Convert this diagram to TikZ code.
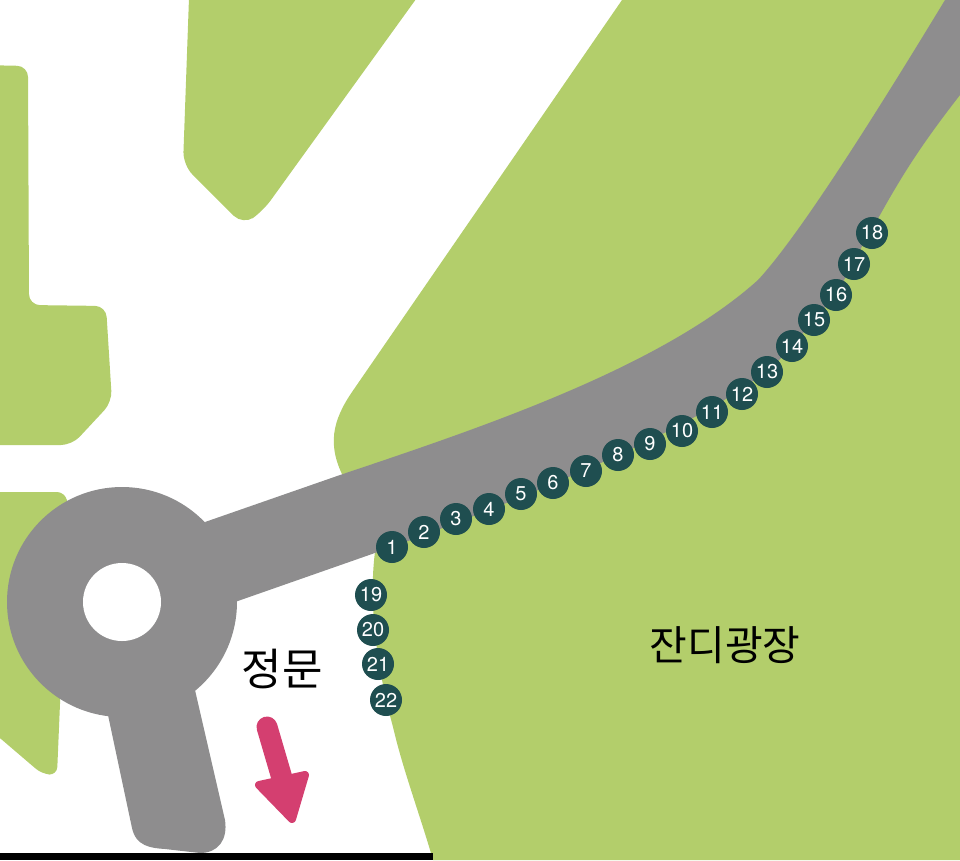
\documentclass[tikz,border=0pt]{standalone}
\usepackage{fontspec}
\setmainfont{TeX Gyre Heros}
\newfontfamily\krfont{Noto Sans CJK KR}
\usepackage{xcolor}
\usepackage{tikz}
\usetikzlibrary{positioning,calc}
\definecolor{lawn}{HTML}{B3CE6B}
\definecolor{road}{HTML}{8E8D8E}
\definecolor{stopdark}{HTML}{1F4E50}
\definecolor{gate}{HTML}{D43F70}
\tikzset{
  lawnpatch/.style = {fill=lawn, draw=none},
  roadpatch/.style = {fill=road, draw=none},
  stopdot/.style   = {circle, fill=stopdark, text=white, inner sep=0pt,
                      minimum size=32pt, font=\fontsize{20}{20}\selectfont},
  placelbl/.style  = {text=black, inner sep=0pt},
}
\begin{document}
\begin{tikzpicture}[x=1pt,y=-1pt]
  \useasboundingbox (0,0) rectangle (960,860);

  % lawns
  \fill[lawnpatch, rounded corners=13pt] (190,-30) -- (183,165) -- (243,225) -- (263,211) -- (437,-30) -- cycle;
  \fill[lawnpatch, rounded corners=11pt] (-20,65) -- (28,66) -- (29,305) -- (106,306) -- (112,402) -- (72,445) -- (-20,445) -- cycle;
  \fill[lawnpatch, rounded corners=8pt] (-20,492) -- (65,492) -- (90,600) -- (61,680) -- (57,775) -- (42,774) -- (-20,721) -- cycle;
  \fill[lawnpatch] (622,0) -- (352,392) .. controls (333,420) and (326,445) .. (345,480)
    -- (375,552) .. controls (370,590) and (372,650) .. (393,727)
    .. controls (403,770) and (420,815) .. (433,860) -- (960,860) -- (960,0) -- cycle;

  % roads
  \fill[roadpatch] (122,602) circle[radius=115];
  \fill[roadpatch] (108,700) -- (108,715) -- (132,828) .. controls (136,846) and (150,848) .. (165,849)
    -- (200,853) .. controls (218,853) and (228,840) .. (225,820) -- (195,690) -- (190,670) -- cycle;
  \fill[roadpatch] (205,522) -- (340,475) .. controls (480,428) and (660,368) .. (758,280)
    .. controls (795,240) and (860,140) .. (945,0) -- (960,0) -- (960,95)
    .. controls (925,140) and (905,170) .. (880,215)
    -- (868,235) -- (836,295) -- (792,346) .. controls (750,400) and (600,470) .. (392,547) -- (235,602) -- cycle;
  \fill[white] (122,602) circle[radius=39];

  % gate arrow
  \fill[gate, draw=gate, line width=8pt, line join=round] (259,785) -- (305,775) -- (292,819) -- cycle;
  \draw[gate, line width=21pt, line cap=round] (267,727) -- (284,785);

  \fill[black] (0,853) rectangle (433,860);

  % stops along the road
  \foreach \n/\px/\py in {1/392/547,2/424/532,3/456/519,4/489/509,5/521/494,6/553/483,
      7/586/471,8/618/455,9/650/444,10/682/431,11/712/412,12/742/394,13/767/372,14/792/346,
      15/814/320,16/836/295,17/854/264,18/872/233,19/371/595,20/373/630,21/378/664,22/386/700}
    \node[stopdot] (stop\n) at (\px,\py) {\n};

  \node[placelbl, font=\krfont\fontsize{41}{44}\selectfont] (lawnname) at (725,645) {잔디광장};
  \node[placelbl, font=\krfont\fontsize{44}{47}\selectfont] (gatename) at (282,669) {정문};
\end{tikzpicture}
\end{document}
